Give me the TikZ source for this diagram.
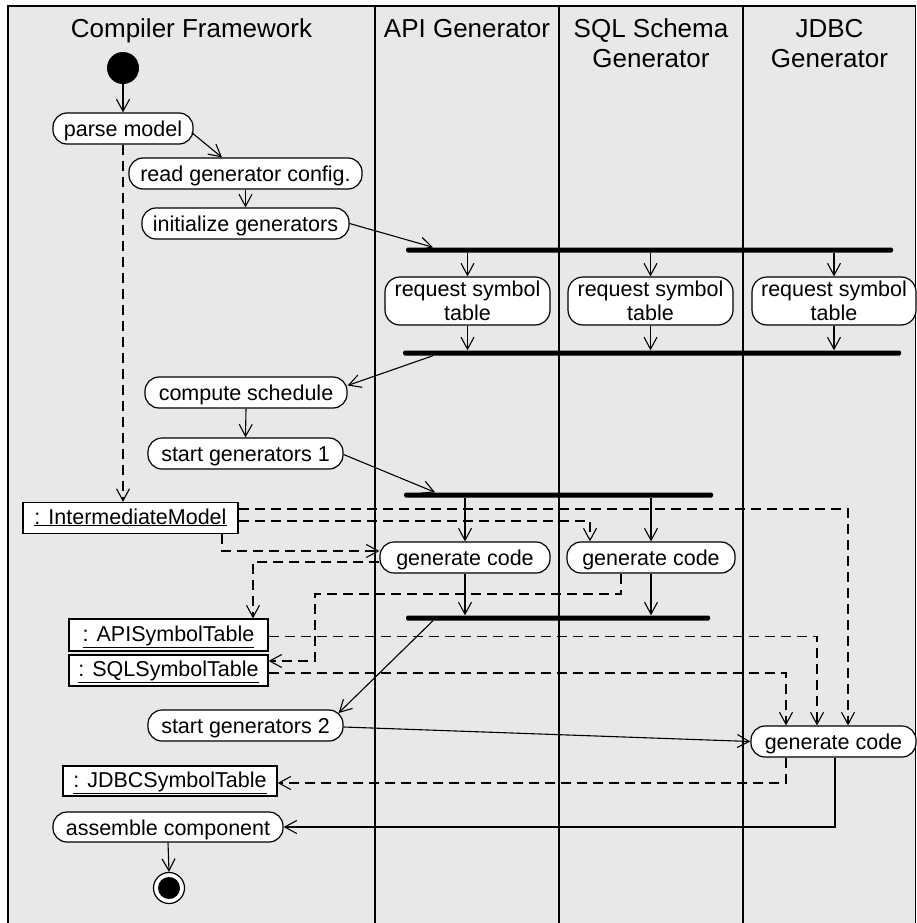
\documentclass[tikz,border=0pt]{standalone}
\usepackage{fontspec}
\setmainfont{Liberation Sans}
\usetikzlibrary{arrows.meta,calc}
\definecolor{lanebg}{RGB}{232,232,232}
\newcommand{\bodyfont}{\fontsize{21.5}{24}\selectfont}
\tikzset{
 act/.style={draw, fill=white, line width=1.2pt, rounded corners=14pt, inner sep=0pt, minimum height=31pt, text height=16pt, text depth=0pt, font=\bodyfont},
 acttwo/.style={draw, fill=white, line width=1.2pt, rounded corners=15pt, inner sep=0pt, minimum height=48pt, align=center, font=\bodyfont},
 obj/.style={draw, fill=white, line width=1.2pt, inner sep=0pt, minimum height=31pt, text height=12pt, text depth=0pt, font=\bodyfont},
 syncbar/.style={fill=black, inner sep=0pt, minimum height=5pt, rounded corners=1.5pt},
 hdr/.style={anchor=base, inner sep=0pt, font=\fontsize{26}{30}\selectfont},
 flow/.style={line width=1.1pt, -{Straight Barb[length=12pt,width=13pt,line width=1.1pt]}},
 dep/.style={flow, dash pattern=on 10pt off 6pt},
 lane/.style={line width=1.5pt}
}
\begin{document}
\begin{tikzpicture}[x=1pt,y=-1pt]
\clip (0,0) rectangle (917,923);
% swimlanes
\fill[lanebg] (8,6) rectangle (915.5,930);
\draw[lane] (8,930) -- (8,6) -- (915.5,6) -- (915.5,930);
\draw[lane] (375,6) -- (375,930);
\draw[lane] (559,6) -- (559,930);
\draw[lane] (743,6) -- (743,930);
% headers
\node[hdr] (h1) at (191.5,38) {Compiler Framework};
\node[hdr] (h2) at (467,38) {API Generator};
\node[hdr] (h3a) at (651,38) {SQL Schema};
\node[hdr] (h3b) at (651,68) {Generator};
\node[hdr] (h4a) at (829.5,38) {JDBC};
\node[hdr] (h4b) at (829.5,68) {Generator};
% nodes
\node[circle, fill=black, minimum size=32pt, inner sep=0pt] (start) at (123,68) {};
\node[act, minimum width=140pt] (pm) at (123,128.5) {parse model};
\node[act, minimum width=233pt] (rg) at (245.5,173.5) {read generator config.};
\node[act, minimum width=207pt] (ig) at (245.5,223.5) {initialize generators};
\node[syncbar, minimum width=487pt] (f1) at (649.5,250) {};
\node[acttwo, minimum width=165pt] (rs1) at (467.5,301) {request symbol\\table};
\node[acttwo, minimum width=165pt] (rs2) at (650.5,301) {request symbol\\table};
\node[acttwo, minimum width=164pt] (rs3) at (834,301) {request symbol\\table};
\node[syncbar, minimum width=498pt] (j1) at (652,353) {};
\node[act, minimum width=202pt] (cs) at (246,392.5) {compute schedule};
\node[act, minimum width=195pt] (sg1) at (245.5,453.5) {start generators 1};
\node[syncbar, minimum width=309pt] (f2) at (558.5,495) {};
\node[obj, minimum width=215pt] (im) at (130.5,518) {\underline{: IntermediateModel}};
\node[act, minimum width=170pt] (gc1) at (465,557.5) {generate code};
\node[act, minimum width=168pt] (gc2) at (651,557.5) {generate code};
\node[syncbar, minimum width=304pt] (j2) at (558,618) {};
\node[obj, minimum width=199pt, minimum height=32pt] (ast) at (168.5,635) {\underline{: APISymbolTable}};
\node[obj, minimum width=199pt] (sst) at (168.5,670.5) {\underline{: SQLSymbolTable}};
\node[act, minimum width=195pt] (sg2) at (245.5,725.5) {start generators 2};
\node[act, minimum width=165pt] (gc3) at (833.5,741.5) {generate code};
\node[obj, minimum width=214pt, minimum height=30pt] (jst) at (170,781) {\underline{: JDBCSymbolTable}};
\node[act, minimum width=230pt, minimum height=30pt] (ac) at (168,827) {assemble component};
\node[circle, draw, line width=1.2pt, fill=white, minimum size=31pt, inner sep=0pt] (stop) at (169,888) {};
\node[circle, fill=black, minimum size=22pt, inner sep=0pt] (stopin) at (stop) {};
% control flow
\draw[flow] (start) -- (pm.north);
\draw[flow] ([shift={(-2,4)}]pm.east) -- ([shift={(-23.5,0)}]rg.north);
\draw[flow] (rg.south) -- (ig.north);
\draw[flow] (ig.east) -- (f1.north -| 433,0);
\foreach \r in {rs1,rs2,rs3}{
  \draw[flow] (f1.south -| \r.north) -- (\r.north);
  \draw[flow] (\r.south) -- (\r.south |- j1.north);
}
\draw[flow] (j1.south -| 433,0) -- ([shift={(0,-7)}]cs.east);
\draw[flow] (cs.south) -- (sg1.north);
\draw[flow] ([shift={(0,1)}]sg1.east) -- (f2.north -| 435,0);
\draw[flow] (f2.south -| gc1.north) -- (gc1.north);
\draw[flow] (f2.south -| gc2.north) -- (gc2.north);
\draw[flow] (gc1.south) -- (gc1.south |- j2.north);
\draw[flow] (gc2.south) -- (gc2.south |- j2.north);
\draw[flow] (j2.south -| 433,0) -- ([shift={(-5,-12.5)}]sg2.east);
\draw[flow] ([shift={(0,1.5)}]sg2.east) -- (gc3.west);
\draw[flow] (gc3.south -| 835,0) |- (ac.east);
\draw[flow] (ac.south) -- (stop.north);
% object flow
\draw[dep] (pm.south) -- (pm.south |- im.north);
\draw[dep] ([shift={(0,-9)}]im.east) -| (gc3.north -| 848,0);
\draw[dep] ([shift={(0,3)}]im.east) -| (gc2.north -| 590,0);
\draw[dep] (im.south -| 222,0) |- ([shift={(0,-6.5)}]gc1.west);
\draw[dep] ([shift={(0,4.5)}]gc1.west) -| (ast.north -| 253,0);
\draw[dep] (gc2.south -| 621,0) |- (315,594) |- ([shift={(0,-9.5)}]sst.east);
\draw[dep] ([shift={(0,1.5)}]ast.east) -| (gc3.north -| 817,0);
\draw[dep] ([shift={(0,2.5)}]sst.east) -| (gc3.north -| 786,0);
\draw[dep] (gc3.south -| 786,0) |- ([shift={(0,2)}]jst.east);
\end{tikzpicture}
\end{document}
